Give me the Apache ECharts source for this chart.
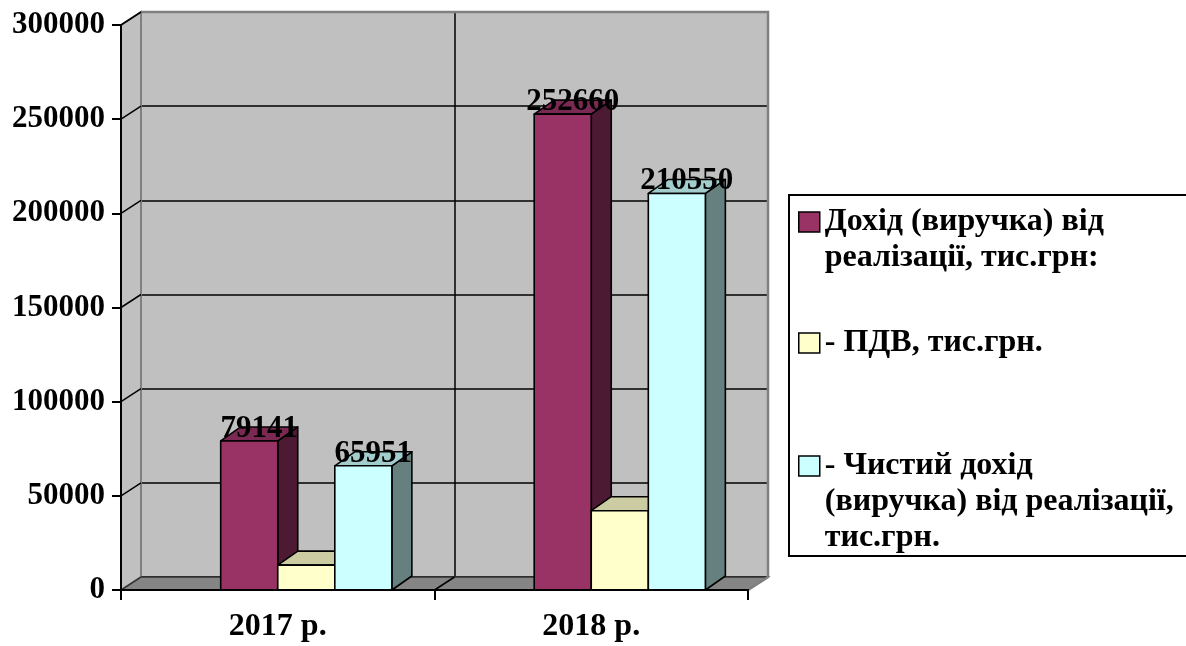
<!DOCTYPE html>
<html>
<head>
<meta charset="utf-8">
<script src="https://cdn.jsdelivr.net/npm/echarts@6/dist/echarts.min.js"></script>
<style>
  html, body { margin: 0; padding: 0; background: #ffffff; }
  #chart { width: 1186px; height: 646px; }
</style>
</head>
<body>
<div id="chart"></div>
<script>
// --- data -------------------------------------------------------------
const CATEGORIES = ['2017 р.', '2018 р.'];
const REVENUE = [79141, 252660];       // Дохід (виручка) від реалізації
const VAT = [13190, 42110];            // ПДВ
const NET_REVENUE = [65951, 210550];   // Чистий дохід (виручка)
const Y_TICKS = [0, 50000, 100000, 150000, 200000, 250000, 300000];

const SERIES_NAMES = [
  'Дохід (виручка) від реалізації, тис.грн:',
  '- ПДВ, тис.грн.',
  '- Чистий дохід (виручка) від реалізації, тис.грн.'
];
const LEGEND_LINES = [
  ['Дохід (виручка) від', 'реалізації, тис.грн:'],
  ['- ПДВ, тис.грн.'],
  ['- Чистий дохід', '(виручка) від реалізації,', 'тис.грн.']
];

// --- look & layout ------------------------------------------------------
const FONT = '"Liberation Serif", "Times New Roman", serif';
const GRID = { left: 121, right: 438, top: 25, bottom: 56 };
const WALL_DX = 20, WALL_DY = -13;     // depth of the chart box
const BAR_DX = 20, BAR_DY = -14;       // depth of each 3D bar
const BAR_FRAC = 0.182;                // bar width as a share of a category band
const LEGEND_LINE_H = 36;
const LEGEND_FIRST_LINE_Y = [222, 343, 466];

const FACE_COLORS = [
  { front: '#993366', top: '#7a2952', side: '#4d1a33' },
  { front: '#ffffcc', top: '#cccca3', side: '#808066' },
  { front: '#ccffff', top: '#a3cccc', side: '#668080' }
];

const Y_MAX = Y_TICKS[Y_TICKS.length - 1];
const Y_STEP = Y_TICKS[1] - Y_TICKS[0];

const chart = echarts.init(document.getElementById('chart'), null, { renderer: 'canvas' });

// Side wall, floor and box edges of the pseudo-3D plot area
function renderFrame(params, api) {
  const v = api.value(1);
  const catW = api.size([1, 0])[0];
  const base = api.coord([0, 0]);
  const left = base[0] - catW / 2;
  const right = left + catW * CATEGORIES.length;
  const yb = base[1];
  const yt = api.coord([0, Y_MAX])[1];
  const y = api.coord([0, v])[1];
  const children = [];
  if (params.dataIndex === 0) {
    children.push({
      type: 'polygon',
      shape: { points: [[left, yb], [left, yt], [left + WALL_DX, yt + WALL_DY], [left + WALL_DX, yb + WALL_DY]] },
      style: { fill: '#c0c0c0', stroke: '#808080', lineWidth: 2 }
    });
    children.push({
      type: 'polygon',
      shape: { points: [[left, yb], [right, yb], [right + WALL_DX, yb + WALL_DY], [left + WALL_DX, yb + WALL_DY]] },
      style: { fill: '#858585', stroke: '#333333', lineWidth: 1.5 }
    });
    for (let k = 1; k < CATEGORIES.length; k++) {
      const x = left + k * catW;
      children.push({
        type: 'line',
        shape: { x1: x, y1: yb, x2: x + WALL_DX, y2: yb + WALL_DY },
        style: { stroke: '#000', lineWidth: 1.5 }
      });
    }
    children.push({
      type: 'polyline',
      shape: { points: [[left + WALL_DX, yt + WALL_DY], [right + WALL_DX, yt + WALL_DY], [right + WALL_DX, yb + WALL_DY], [right, yb]] },
      style: { stroke: '#808080', lineWidth: 2.5, fill: null }
    });
  }
  if (v > 0) {
    children.push({
      type: 'line',
      shape: { x1: left, y1: y, x2: left + WALL_DX, y2: y + WALL_DY },
      style: { stroke: '#000', lineWidth: 1.5 }
    });
  }
  return { type: 'group', children };
}

// One 3D column: side face, top face, front face and optional value label
function makeBarRenderer(slot, colors, withLabel) {
  return function (params, api) {
    const idx = api.value(0);
    const val = api.value(1);
    const catW = api.size([1, 0])[0];
    const base = api.coord([idx, 0]);
    const top = api.coord([idx, val]);
    const w = catW * BAR_FRAC;
    const x0 = base[0] + (slot - 1) * w;
    const y0 = top[1];
    const yb = base[1];
    const edge = { stroke: '#000', lineWidth: 1.6, lineJoin: 'round' };
    const children = [
      {
        type: 'polygon',
        shape: { points: [[x0 + w, y0], [x0 + w + BAR_DX, y0 + BAR_DY], [x0 + w + BAR_DX, yb + BAR_DY], [x0 + w, yb]] },
        style: Object.assign({ fill: colors.side }, edge)
      },
      {
        type: 'polygon',
        shape: { points: [[x0, y0], [x0 + w, y0], [x0 + w + BAR_DX, y0 + BAR_DY], [x0 + BAR_DX, y0 + BAR_DY]] },
        style: Object.assign({ fill: colors.top }, edge)
      },
      {
        type: 'rect',
        shape: { x: x0, y: y0, width: w, height: yb - y0 },
        style: Object.assign({ fill: colors.front }, edge)
      }
    ];
    if (withLabel) {
      children.push({
        type: 'text',
        x: x0 + w / 2 + BAR_DX / 2,
        y: y0 + BAR_DY / 2 - 5,
        z2: 10,
        style: {
          text: String(val),
          fill: '#000',
          fontFamily: FONT,
          fontWeight: 'bold',
          fontSize: 31,
          align: 'center',
          verticalAlign: 'middle'
        }
      });
    }
    return { type: 'group', children };
  };
}

const SERIES_VALUES = [REVENUE, VAT, NET_REVENUE];
const SHOW_LABEL = [true, false, true];

const barSeries = SERIES_VALUES.map((values, s) => ({
  type: 'custom',
  name: SERIES_NAMES[s],
  xAxisIndex: 0,
  yAxisIndex: 0,
  clip: false,
  itemStyle: { color: FACE_COLORS[s].front },
  encode: { x: 0, y: 1 },
  data: values.map((v, i) => [i, v]),
  renderItem: makeBarRenderer(s, FACE_COLORS[s], SHOW_LABEL[s])
}));

const legends = LEGEND_LINES.map((lines, i) => {
  const n = lines.length;
  return {
    orient: 'vertical',
    left: 798,
    top: LEGEND_FIRST_LINE_Y[i] - (2 * n - 1) * LEGEND_LINE_H / 2,
    padding: 0,
    selectedMode: false,
    icon: 'rect',
    itemWidth: 21,
    itemHeight: 20,
    itemStyle: { borderColor: '#000', borderWidth: 1.5 },
    data: [SERIES_NAMES[i]],
    // leading blank lines keep the swatch level with the first text line
    formatter: () => '\n'.repeat(n - 1) + lines.join('\n'),
    textStyle: {
      fontFamily: FONT,
      fontWeight: 'bold',
      fontSize: 32,
      lineHeight: LEGEND_LINE_H,
      color: '#000'
    }
  };
});

const option = {
  animation: false,
  backgroundColor: '#ffffff',
  grid: [
    Object.assign({}, GRID),
    {
      left: GRID.left + WALL_DX,
      right: GRID.right - WALL_DX,
      top: GRID.top + WALL_DY,
      bottom: GRID.bottom - WALL_DY,
      show: true,
      backgroundColor: '#c0c0c0',
      borderColor: '#808080',
      borderWidth: 2
    }
  ],
  xAxis: [
    {
      type: 'category',
      gridIndex: 0,
      data: CATEGORIES,
      boundaryGap: true,
      z: 5,
      axisLine: { lineStyle: { color: '#000', width: 2 } },
      axisTick: { show: true, length: 10, lineStyle: { color: '#000', width: 2 } },
      axisLabel: { color: '#000', fontFamily: FONT, fontWeight: 'bold', fontSize: 32, margin: 21 },
      splitLine: { show: false }
    },
    {
      type: 'category',
      gridIndex: 1,
      data: CATEGORIES,
      boundaryGap: true,
      axisLine: { show: false },
      axisTick: { show: false },
      axisLabel: { show: false },
      splitLine: { show: true, lineStyle: { color: '#000', width: 1.5 } }
    }
  ],
  yAxis: [
    {
      type: 'value',
      gridIndex: 0,
      min: 0,
      max: Y_MAX,
      interval: Y_STEP,
      z: 5,
      axisLine: { show: true, lineStyle: { color: '#000', width: 2 } },
      axisTick: { show: true, length: 9, lineStyle: { color: '#000', width: 2 } },
      axisLabel: {
        color: '#000', fontFamily: FONT, fontWeight: 'bold', fontSize: 31, margin: 16,
        formatter: v => String(v)
      },
      splitLine: { show: false }
    },
    {
      type: 'value',
      gridIndex: 1,
      min: 0,
      max: Y_MAX,
      interval: Y_STEP,
      axisLine: { show: false },
      axisTick: { show: false },
      axisLabel: { show: false },
      splitLine: { show: true, lineStyle: { color: '#000', width: 1.5 } }
    }
  ],
  legend: legends,
  graphic: [
    {
      type: 'rect',
      left: 788,
      top: 194,
      shape: { x: 0, y: 0, width: 420, height: 361 },
      style: { fill: 'rgba(0,0,0,0)', stroke: '#000', lineWidth: 2 },
      silent: true
    }
  ],
  series: [
    {
      type: 'custom',
      name: 'frame',
      xAxisIndex: 0,
      yAxisIndex: 0,
      clip: false,
      silent: true,
      encode: { x: 0, y: 1 },
      data: Y_TICKS.map(v => [0, v]),
      renderItem: renderFrame
    }
  ].concat(barSeries)
};

chart.setOption(option);
</script>
</body>
</html>
